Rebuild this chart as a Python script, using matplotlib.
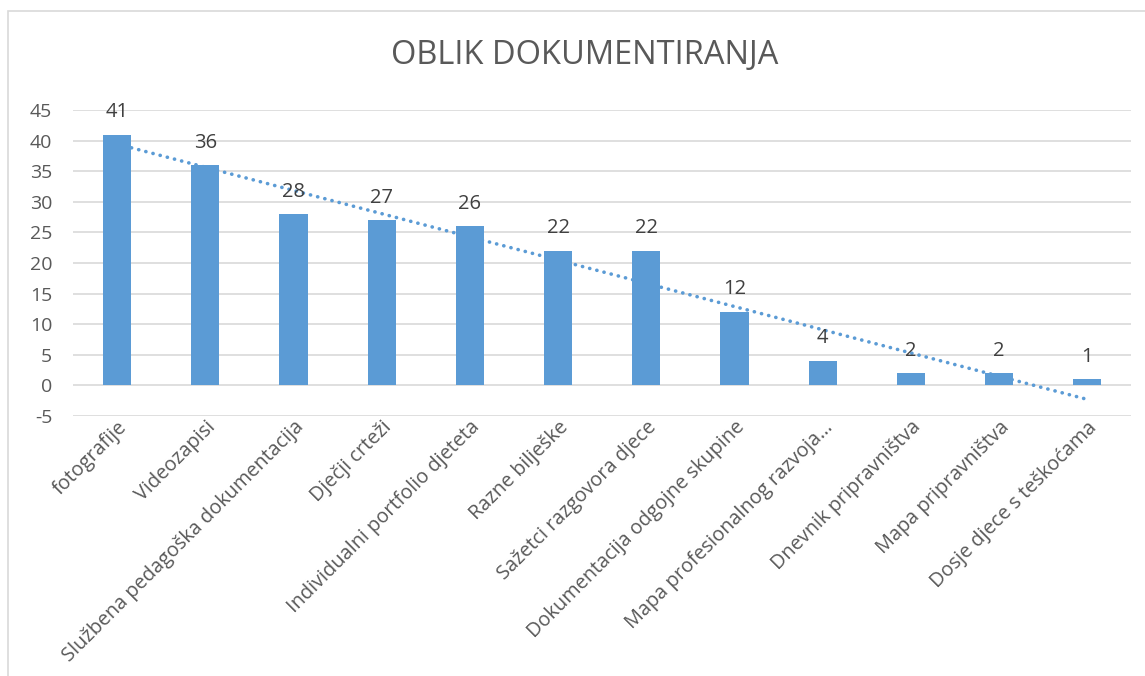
import numpy as np
import matplotlib.pyplot as plt
from matplotlib.patches import Rectangle

categories = ["fotografije", "Videozapisi", "Službena pedagoška dokumentacija",
              "Dječji crteži", "Individualni portfolio djeteta", "Razne bilješke",
              "Sažetci razgovora djece", "Dokumentacija odgojne skupine",
              "Mapa profesionalnog razvoja…", "Dnevnik pripravništva",
              "Mapa pripravništva", "Dosje djece s teškoćama"]
values = [41, 36, 28, 27, 26, 22, 22, 12, 4, 2, 2, 1]
yticks = [-5, 0, 5, 10, 15, 20, 25, 30, 35, 40, 45]

bar_color = "#5B9BD5"
text_color = "#595959"
plt.rcParams['font.family'] = ['Open Sans', 'DejaVu Sans']
plt.rcParams['axes.unicode_minus'] = False

fig = plt.figure(figsize=(11.45, 6.76), dpi=100)
ax = fig.add_axes([0.0638, 0.3846, 0.9242, 0.4526])

x = np.arange(len(categories))
ax.bar(x, values, width=0.32, color=bar_color, zorder=3)

# linear trendline like excel
k, b = np.polyfit(x + 1, values, 1)
ax.plot(x, k * (x + 1) + b, color=bar_color, lw=2.6,
        linestyle=(0, (0.05, 2.0)), dash_capstyle="round", zorder=4)

for xi, v in zip(x, values):
    ax.annotate(str(v), (xi, v), xytext=(0, 9), textcoords="offset points",
                ha="center", va="bottom", fontsize=14.5, color="#404040", zorder=5)

ax.set_xlim(-0.5, len(categories) - 0.5)
ax.set_ylim(-5, 45)
ax.set_yticks(yticks)
ax.yaxis.grid(True, color="#D9D9D9", lw=1.2, zorder=0)
ax.tick_params(axis="y", length=0, labelsize=14, labelcolor=text_color, pad=15)
ax.set_xticks(x)
ax.set_xticklabels(categories, rotation=45, ha="right", rotation_mode="anchor",
                   fontsize=14.3, color=text_color)
ax.tick_params(axis="x", length=0, pad=1)
for s in ax.spines.values():
    s.set_visible(False)

fig.text(0.511, 0.918, "OBLIK DOKUMENTIRANJA", ha="center", va="center",
         fontsize=23.5, color=text_color, family=["Open Sans", "DejaVu Sans"])

fig.patches.append(Rectangle((8 / 1145, -0.01), 1.02, 1 - 11 / 676 + 0.01,
                             transform=fig.transFigure, fill=False,
                             edgecolor="#D9D9D9", lw=1.2))

fig.savefig("out.png", dpi=100)
